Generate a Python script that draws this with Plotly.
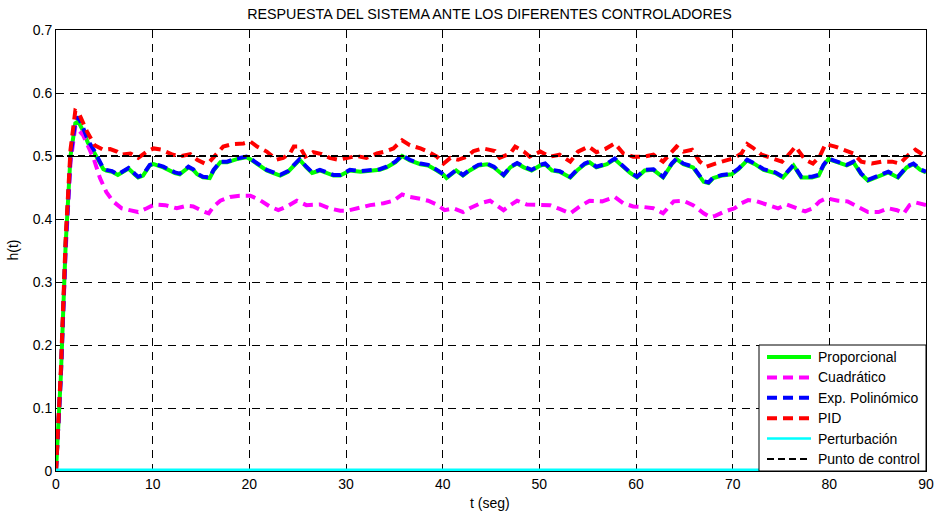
import plotly.graph_objects as go

# --- Respuesta del controlador proporcional y del exponencial polinómico ---
t_prop = [0, 0.5, 1.0, 1.5, 2.0, 2.3, 2.8, 3.3, 3.9, 4.55, 4.9, 5.2, 5.8, 6.4, 6.8, 7.5, 8.2, 8.5,
          9.0, 9.7, 10.1, 11.1, 12.3, 12.8, 13.7, 14.2, 14.6, 15.2, 15.9, 16.3, 17.0, 17.7, 18.7,
          19.7, 20.1, 20.8, 21.8, 22.5, 23.2, 24.0, 24.7, 25.2, 25.9, 26.5, 27.3, 28.0, 28.7, 29.4,
          29.9, 30.4, 31.5, 32.5, 33.5, 34.2, 35.1, 35.8, 36.6, 37.7, 38.5, 39.4, 40.1, 40.4, 40.9,
          41.4, 42.1, 42.8, 43.7, 44.6, 45.3, 46.1, 46.3, 47.0, 47.7, 48.4, 49.2, 50.1, 50.6, 51.3,
          52.1, 53.2, 53.9, 54.7, 55.2, 55.9, 57.0, 57.8, 58.5, 59.4, 60.1, 60.9, 61.8, 62.8, 63.7,
          64.2, 64.9, 65.9, 67.0, 67.5, 68.0, 68.9, 69.9, 70.6, 71.5, 72.3, 73.2, 74.4, 75.2, 76.3,
          77.1, 78.2, 78.9, 79.4, 79.9, 80.8, 81.8, 82.5, 83.3, 84.0, 85.1, 86.1, 87.1, 88.0, 88.7,
          89.4, 90.0]

h_exp = [0, 0.15, 0.36, 0.50, 0.555, 0.562, 0.545, 0.525, 0.510, 0.491, 0.480, 0.478, 0.476,
         0.471, 0.475, 0.481, 0.471, 0.467, 0.470, 0.486, 0.488, 0.483, 0.474, 0.472, 0.483,
         0.479, 0.472, 0.467, 0.466, 0.478, 0.491, 0.491, 0.496, 0.499, 0.496, 0.488, 0.478,
         0.474, 0.470, 0.476, 0.486, 0.495, 0.483, 0.474, 0.478, 0.474, 0.470, 0.470, 0.474,
         0.478, 0.476, 0.478, 0.479, 0.483, 0.491, 0.501, 0.494, 0.488, 0.486, 0.478, 0.471,
         0.466, 0.472, 0.478, 0.470, 0.478, 0.486, 0.488, 0.483, 0.472, 0.470, 0.483, 0.489,
         0.483, 0.478, 0.486, 0.488, 0.478, 0.476, 0.467, 0.478, 0.488, 0.491, 0.483, 0.488,
         0.496, 0.486, 0.474, 0.467, 0.478, 0.479, 0.467, 0.488, 0.496, 0.488, 0.483, 0.460,
         0.458, 0.466, 0.470, 0.472, 0.480, 0.494, 0.488, 0.479, 0.474, 0.467, 0.486, 0.467,
         0.467, 0.470, 0.486, 0.496, 0.491, 0.486, 0.491, 0.472, 0.462, 0.468, 0.475, 0.467,
         0.483, 0.488, 0.479, 0.475]

h_prop = [0, 0.15, 0.36, 0.50, 0.552, 0.555, 0.540, 0.521, 0.507, 0.489, 0.479, 0.477, 0.475,
          0.470, 0.474, 0.480, 0.470, 0.466, 0.469, 0.485, 0.487, 0.482, 0.473, 0.471, 0.482,
          0.478, 0.471, 0.466, 0.465, 0.477, 0.490, 0.490, 0.495, 0.498, 0.495, 0.487, 0.477,
          0.473, 0.469, 0.475, 0.485, 0.494, 0.482, 0.473, 0.477, 0.473, 0.469, 0.469, 0.473,
          0.477, 0.475, 0.477, 0.478, 0.482, 0.490, 0.500, 0.493, 0.487, 0.485, 0.477, 0.470,
          0.465, 0.471, 0.477, 0.469, 0.477, 0.485, 0.487, 0.482, 0.471, 0.469, 0.482, 0.488,
          0.482, 0.477, 0.485, 0.487, 0.477, 0.475, 0.466, 0.477, 0.487, 0.490, 0.482, 0.487,
          0.495, 0.485, 0.473, 0.466, 0.477, 0.478, 0.466, 0.487, 0.495, 0.487, 0.482, 0.459,
          0.457, 0.465, 0.469, 0.471, 0.479, 0.493, 0.487, 0.478, 0.473, 0.466, 0.485, 0.466,
          0.466, 0.469, 0.485, 0.495, 0.490, 0.485, 0.490, 0.471, 0.461, 0.467, 0.474, 0.466,
          0.482, 0.487, 0.478, 0.474]

# --- Controlador cuadrático ---
t_cuad = [0, 0.5, 1.0, 1.5, 2.0, 2.8, 3.9, 4.55, 5.2, 5.9, 6.8, 7.7, 8.5, 9.4, 10.2, 11.3, 12.5,
          13.5, 14.2, 15.1, 15.8, 16.3, 17.0, 18.0, 19.0, 20.1, 21.1, 22.1, 23.0, 23.9, 24.9, 25.9,
          27.3, 28.3, 29.4, 30.1, 31.1, 32.5, 33.9, 34.9, 35.8, 36.6, 37.7, 38.5, 39.4, 40.2, 41.1,
          42.1, 42.8, 43.9, 44.9, 45.6, 46.3, 47.0, 47.7, 48.7, 50.1, 51.1, 52.1, 53.2, 54.2, 55.2,
          56.5, 57.8, 58.7, 59.7, 60.8, 61.8, 62.8, 63.9, 64.9, 65.9, 67.0, 67.7, 68.2, 69.2, 70.2,
          70.9, 71.6, 72.5, 73.7, 74.7, 75.6, 76.6, 77.5, 78.3, 79.0, 79.7, 80.9, 81.9, 82.7, 84.0,
          85.1, 86.1, 87.0, 87.7, 88.3, 89.0, 90.0]

h_cuad = [0, 0.15, 0.35, 0.49, 0.547, 0.533, 0.496, 0.465, 0.443, 0.428, 0.417, 0.413, 0.411,
          0.417, 0.423, 0.422, 0.417, 0.421, 0.420, 0.413, 0.409, 0.420, 0.429, 0.435, 0.437,
          0.437, 0.430, 0.420, 0.414, 0.420, 0.429, 0.422, 0.423, 0.417, 0.413, 0.413, 0.417,
          0.422, 0.425, 0.429, 0.439, 0.435, 0.432, 0.429, 0.423, 0.414, 0.417, 0.411, 0.417,
          0.425, 0.429, 0.422, 0.414, 0.422, 0.429, 0.423, 0.423, 0.422, 0.416, 0.409, 0.420,
          0.429, 0.428, 0.435, 0.425, 0.420, 0.419, 0.417, 0.409, 0.428, 0.429, 0.422, 0.409,
          0.403, 0.405, 0.412, 0.417, 0.425, 0.430, 0.428, 0.422, 0.417, 0.423, 0.417, 0.412,
          0.417, 0.428, 0.433, 0.429, 0.428, 0.422, 0.411, 0.411, 0.417, 0.414, 0.409, 0.422,
          0.426, 0.422]

# --- Controlador PID ---
t_pid = [0, 0.5, 1.0, 1.5, 2.0, 2.3, 3.2, 4.0, 4.9, 5.6, 6.3, 6.8, 7.7, 8.5, 9.4, 10.1, 10.9,
         12.1, 13.0, 13.9, 14.6, 15.4, 15.9, 16.6, 17.3, 18.3, 19.4, 20.1, 20.8, 21.8, 22.4, 22.8,
         23.5, 24.2, 24.6, 25.2, 25.8, 26.6, 27.5, 28.3, 29.2, 30.1, 31.1, 32.1, 33.2, 34.0, 34.9,
         35.8, 36.6, 37.7, 38.5, 39.4, 40.1, 40.8, 41.6, 42.5, 43.2, 44.2, 44.9, 45.4, 45.9, 47.0,
         47.5, 48.4, 49.0, 50.1, 51.1, 52.1, 53.2, 54.0, 55.1, 55.9, 56.8, 57.8, 58.7, 59.7, 60.8,
         61.8, 62.8, 63.7, 64.2, 64.9, 65.8, 66.6, 67.3, 68.2, 69.2, 70.2, 70.9, 71.5, 72.1, 73.0,
         74.0, 75.1, 75.9, 76.5, 77.5, 78.3, 79.0, 79.6, 80.6, 81.6, 82.5, 83.3, 84.4, 85.4, 86.5,
         87.3, 88.2, 88.9, 89.6, 90.0]

h_pid = [0, 0.16, 0.37, 0.51, 0.572, 0.570, 0.539, 0.517, 0.510, 0.511, 0.507, 0.502, 0.504,
         0.497, 0.507, 0.512, 0.510, 0.502, 0.500, 0.503, 0.494, 0.488, 0.491, 0.504, 0.515,
         0.519, 0.520, 0.523, 0.515, 0.507, 0.499, 0.494, 0.497, 0.504, 0.515, 0.515, 0.499,
         0.506, 0.503, 0.497, 0.494, 0.497, 0.500, 0.497, 0.504, 0.507, 0.512, 0.525, 0.517,
         0.512, 0.507, 0.499, 0.488, 0.497, 0.494, 0.499, 0.508, 0.512, 0.509, 0.508, 0.497,
         0.504, 0.515, 0.507, 0.499, 0.507, 0.499, 0.502, 0.491, 0.507, 0.515, 0.506, 0.511,
         0.520, 0.504, 0.499, 0.499, 0.502, 0.491, 0.507, 0.515, 0.507, 0.510, 0.491, 0.483,
         0.488, 0.492, 0.497, 0.504, 0.519, 0.513, 0.502, 0.497, 0.491, 0.504, 0.515, 0.494,
         0.488, 0.499, 0.519, 0.515, 0.510, 0.504, 0.491, 0.488, 0.491, 0.491, 0.488, 0.502,
         0.510, 0.502, 0.499]

# --- Perturbación y punto de control ---
t_ext = [0, 90]
h_pert = [0, 0]
h_ref = [0.5, 0.5]

FONT = "Liberation Sans, Arial, Helvetica, sans-serif"
DASH_THICK = "10px,6px"
DASH_REF = "7px,4px"

# Plot area in pixels (936 x 511 canvas)
L, R, T, B = 56, 10, 30, 40
PW, PH = 936 - L - R, 511 - T - B


def px_x(px):
    return (px - L) / PW


def px_y(py):
    return (T + PH - py) / PH


# name, data, colour, plotted width, legend-sample width, sample length, dash
series = [
    dict(name="Proporcional", x=t_prop, y=h_prop, color="#00ff00",
         width=4, key_width=4, key_len=44, dash="solid"),
    dict(name="Cuadrático", x=t_cuad, y=h_cuad, color="#ff00ff",
         width=4, key_width=4, key_len=44, dash=DASH_THICK),
    dict(name="Exp. Polinómico", x=t_prop, y=h_exp, color="#0000ff",
         width=4, key_width=4, key_len=44, dash=DASH_THICK),
    dict(name="PID", x=t_pid, y=h_pid, color="#ff0000",
         width=4, key_width=4, key_len=44, dash=DASH_THICK),
    dict(name="Perturbación", x=t_ext, y=h_pert, color="#00ffff",
         width=5, key_width=2.5, key_len=44, dash="solid"),
    dict(name="Punto de control", x=t_ext, y=h_ref, color="black",
         width=2, key_width=2, key_len=41, dash=DASH_REF),
]

fig = go.Figure()
for s in series:
    fig.add_trace(go.Scatter(x=s["x"], y=s["y"], mode="lines", name=s["name"],
                             line=dict(color=s["color"], width=s["width"], dash=s["dash"])))

# Boxed legend in the lower-right corner of the axes
shapes = [dict(type="rect", xref="paper", yref="paper",
               x0=px_x(759), x1=1, y0=0, y1=px_y(345),
               fillcolor="white", line=dict(color="black", width=1), layer="above")]
annotations = []
for i, s in enumerate(series):
    yc = 357 + 20.4 * i
    shapes.append(dict(type="line", xref="paper", yref="paper",
                       x0=px_x(767), x1=px_x(767 + s["key_len"]), y0=px_y(yc), y1=px_y(yc),
                       line=dict(color=s["color"], width=s["key_width"], dash=s["dash"]),
                       layer="above"))
    annotations.append(dict(text=s["name"], xref="paper", yref="paper",
                            x=px_x(816), y=px_y(yc), xanchor="left", yanchor="middle",
                            showarrow=False,
                            font=dict(family=FONT, size=14, color="black")))

# Axis titles
annotations += [
    dict(text="t (seg)", xref="paper", yref="paper",
         x=px_x(490), y=px_y(503), xanchor="center", yanchor="middle", showarrow=False,
         font=dict(family=FONT, size=14, color="black")),
    dict(text="h(t)", xref="paper", yref="paper",
         x=px_x(12), y=0.5, textangle=-90, xanchor="center", yanchor="middle",
         showarrow=False, font=dict(family=FONT, size=14, color="black")),
]

axis_common = dict(
    showline=True, linecolor="black", linewidth=1, mirror="ticks",
    ticks="inside", ticklen=5, tickcolor="black", tickwidth=1,
    showgrid=True, gridcolor="black", gridwidth=1, griddash="8px,6px",
    zeroline=False, automargin=False, layer="below traces",
    tickfont=dict(family=FONT, size=14, color="black"),
)

fig.update_layout(
    width=936, height=511,
    margin=dict(l=L, r=R, t=T, b=B, autoexpand=False),
    paper_bgcolor="white", plot_bgcolor="white",
    font=dict(family=FONT, size=14, color="black"),
    title=dict(text="RESPUESTA DEL SISTEMA ANTE LOS DIFERENTES CONTROLADORES",
               x=489.5 / 936, xanchor="center", y=1 - 13.5 / 511, yanchor="middle",
               font=dict(family=FONT, size=14.3, color="black")),
    xaxis=dict(range=[0, 90], dtick=10, tick0=0, **axis_common),
    yaxis=dict(range=[0, 0.7], dtick=0.1, tick0=0, **axis_common),
    showlegend=False,
    shapes=shapes,
    annotations=annotations,
)

fig.write_html("out.html")
